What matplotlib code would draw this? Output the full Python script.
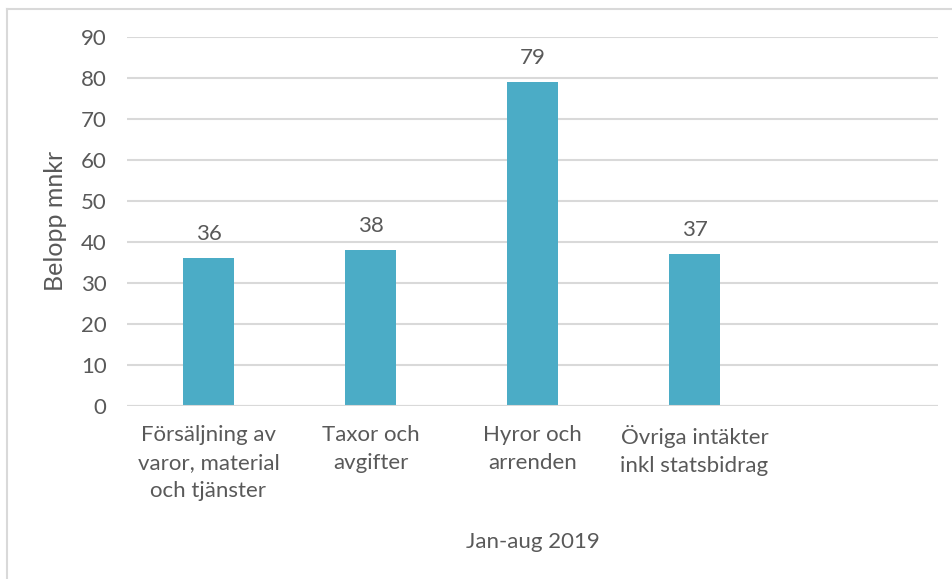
import matplotlib.pyplot as plt
from matplotlib.lines import Line2D

# Data
categories = ['Försäljning av\nvaror, material\noch tjänster', 'Taxor och\navgifter',
              'Hyror och\narrenden', 'Övriga intäkter\ninkl statsbidrag', '']
values = [36, 38, 79, 37, None]
y_ticks = [0, 10, 20, 30, 40, 50, 60, 70, 80, 90]

text_col = '#595959'
grid_col = '#d9d9d9'
bar_col = '#4bacc6'
fs = 16

plt.rcParams['font.family'] = ['Lato', 'DejaVu Sans']

W, H = 953, 579
fig = plt.figure(figsize=(W / 100, H / 100), dpi=100)

# chart frame (cut off on right and bottom)
fig.add_artist(Line2D([7 / W, 7 / W], [0, 1 - 9 / H], color=grid_col, lw=1.5))
fig.add_artist(Line2D([7 / W, 1], [1 - 9 / H, 1 - 9 / H], color=grid_col, lw=1.5))

left, right = 127.5, 937.5
top, bottom = 36.7, 405.7
ax = fig.add_axes([left / W, 1 - bottom / H, (right - left) / W, (bottom - top) / H])

x = list(range(len(categories)))
heights = [v if v is not None else 0 for v in values]
bars = ax.bar(x, heights, width=0.315, color=bar_col, zorder=3)

for xi, v in zip(x, values):
    if v is not None:
        ax.annotate(str(v), (xi, v), xytext=(0, 10), textcoords='offset points',
                    ha='center', va='bottom', fontsize=fs, color=text_col)

ax.set_xlim(-0.5, len(categories) - 0.5)
ax.set_ylim(0, 90)
ax.set_yticks(y_ticks)
ax.set_xticks(x)
ax.set_xticklabels(categories, fontsize=fs, color=text_col, linespacing=1.5)
ax.tick_params(axis='y', length=0, pad=15, labelsize=fs, labelcolor=text_col)
ax.tick_params(axis='x', length=0, pad=14)
ax.grid(axis='y', color=grid_col, lw=1.5, zorder=0)
for s in ax.spines.values():
    s.set_visible(False)
ax.axhline(0, color=grid_col, lw=1.5, zorder=4)

ax.set_ylabel('Belopp mnkr', fontsize=18, color=text_col, labelpad=10)
ax.set_xlabel('Jan-aug 2019', fontsize=fs, color=text_col, labelpad=22)

fig.savefig('out.png', dpi=100)
